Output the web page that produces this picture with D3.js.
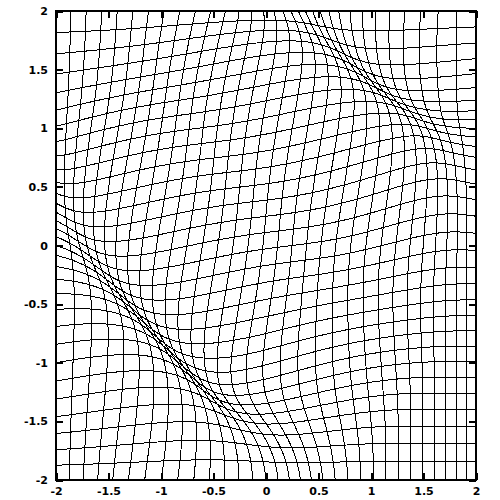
<!DOCTYPE html>
<html><head><meta charset="utf-8">
<script src="https://cdn.jsdelivr.net/npm/d3@7"></script>
<style>body{margin:0;background:#fff}svg{display:block}</style>
</head><body>
<svg id="c" width="500" height="500"></svg>
<script>
// axis ticks
const xTicks = [-2, -1.5, -1, -0.5, 0, 0.5, 1, 1.5, 2];
const yTicks = [-2, -1.5, -1, -0.5, 0, 0.5, 1, 1.5, 2];
// logical mesh: 33 x 33 nodes, lattice coordinates
const meshI = [-2, -1.875, -1.75, -1.625, -1.5, -1.375, -1.25, -1.125, -1, -0.875, -0.75, -0.625, -0.5, -0.375, -0.25, -0.125, 0,
               0.125, 0.25, 0.375, 0.5, 0.625, 0.75, 0.875, 1, 1.125, 1.25, 1.375, 1.5, 1.625, 1.75, 1.875, 2];
const meshJ = meshI.slice();
// main distortion: a skewed wave along x+y (bands at x+y = -1.8 and 2.4)
const wave = [0.19, -0.3, 4.2, 0.27];          // amplitude, skew, period, phase
const fade = [0.6, 2.8, 0.15];                  // fade start, fade end (along x-y), far shift
// local displacements read at the frame: [component, sign-anchor, amp, x0, y0, sx, sy]
const localU = [
  [ 0.16, -2, 2, 1.06, 1.0, 'left'],            // top-left corner, to the right
  [-0.31,  2, 2, 0.5,  0.6, 'right'],           // top-right corner, to the left
  [ 0.10, -0.1, -2, 0.5, 0.5, 'bump']           // bottom edge near x = 0
];
const localV = [
  [-0.39, -2, 2, 1.0, 0.65, 'top'],             // top-left corner, downwards
  [ 0.27,  2, 0.8, 0.9, 0.8, 'bump']            // right edge around y = 0.8, upwards
];

function waveF(s) {
  const p = 2 * Math.PI * (s - wave[3]) / wave[2];
  return wave[0] * (Math.sin(p) + wave[1] * Math.sin(2 * p));
}
function smoothstep(a, b, t) {
  const k = Math.min(1, Math.max(0, (t - a) / (b - a)));
  return k * k * (3 - 2 * k);
}
function shift(px, py) {
  const E = 1 - smoothstep(fade[0], fade[1], px - py);
  return E * waveF(px + py) + (1 - E) * fade[2];
}
function edge(z) { return 1 - Math.pow(Math.abs(z) / 2, 4); }
function gauss(px, py, c) { return Math.exp(-(((px - c[1]) / c[3]) ** 2) - (((py - c[2]) / c[4]) ** 2)); }
function node(a, b) {
  const f = shift(a, b);
  let u = edge(a) * f, v = edge(b) * f;
  localU.forEach(c => {
    const w = c[5] === 'left' ? (a + 2) : c[5] === 'right' ? (2 - a) : edge(a);
    u += c[0] * w * gauss(a, b, c);
  });
  localV.forEach(c => {
    const w = c[5] === 'top' ? (2 - b) : edge(b);
    v += c[0] * w * gauss(a, b, c);
  });
  return [a + u, b + v];
}

const svg = d3.select('#c');
const x = d3.scaleLinear().domain([-2, 2]).range([56, 476]);
const y = d3.scaleLinear().domain([-2, 2]).range([480, 11]);
const line = d3.line().x(d => x(d[0])).y(d => y(d[1]));
const steps = d3.range(0, 241).map(k => -2 + k * 4 / 240);

const mesh = svg.append('g').attr('fill', 'none').attr('stroke', '#000')
  .attr('stroke-width', 1).attr('shape-rendering', 'crispEdges');
meshI.forEach(a => mesh.append('path').attr('d', line(steps.map(b => node(a, b)))));
meshJ.forEach(b => mesh.append('path').attr('d', line(steps.map(a => node(a, b)))));

const fmt = d => String(d);
const font = 'bold 11px "DejaVu Sans", sans-serif';
function style(g) {
  g.select('.domain').remove();
  g.selectAll('.tick line').attr('stroke', '#000').attr('stroke-width', 2).attr('shape-rendering', 'crispEdges');
  g.selectAll('.tick text').attr('fill', '#000').style('font', font);
}
svg.append('g').attr('transform', 'translate(0,480)')
  .call(d3.axisBottom(x).tickValues(xTicks).tickFormat(fmt).tickSizeInner(-7).tickSizeOuter(0).tickPadding(7)).call(style);
svg.append('g').attr('transform', 'translate(0,11)')
  .call(d3.axisTop(x).tickValues(xTicks).tickFormat('').tickSizeInner(-7).tickSizeOuter(0)).call(style);
svg.append('g').attr('transform', 'translate(56,0)')
  .call(d3.axisLeft(y).tickValues(yTicks).tickFormat(fmt).tickSizeInner(-7).tickSizeOuter(0).tickPadding(8)).call(style);
svg.append('g').attr('transform', 'translate(476,0)')
  .call(d3.axisRight(y).tickValues(yTicks).tickFormat('').tickSizeInner(-7).tickSizeOuter(0)).call(style);

svg.append('rect').attr('x', 56).attr('y', 11).attr('width', 420).attr('height', 469)
  .attr('fill', 'none').attr('stroke', '#000').attr('stroke-width', 2).attr('shape-rendering', 'crispEdges');
</script>
</body></html>
